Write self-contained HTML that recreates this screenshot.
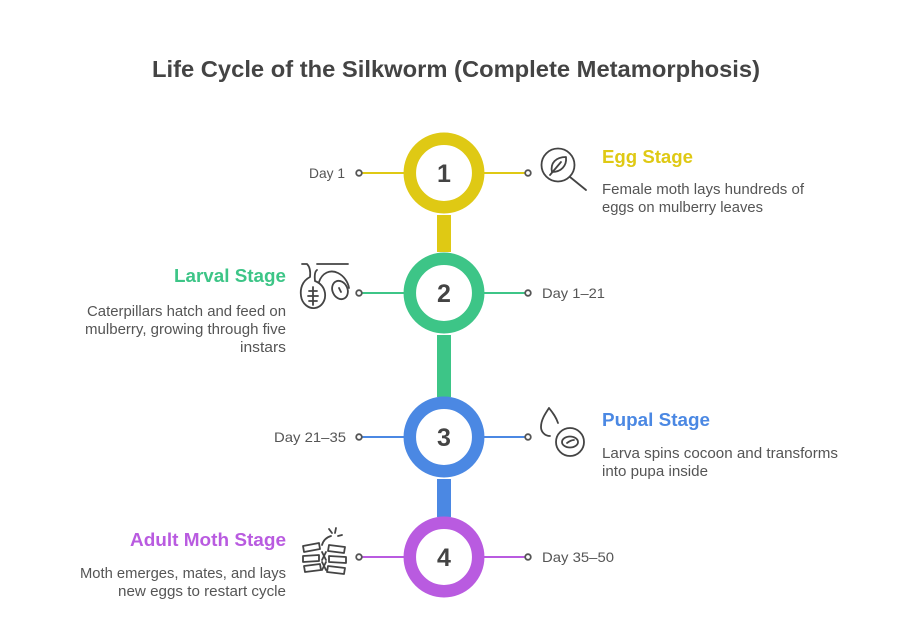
<!DOCTYPE html>
<html><head><meta charset="utf-8"><style>
html,body{margin:0;padding:0;background:#fff;}
svg{display:block;}
text{font-family:"Liberation Sans",Arial,sans-serif;}
</style></head><body>
<svg width="912" height="632" viewBox="0 0 912 632" xmlns="http://www.w3.org/2000/svg">
<rect width="912" height="632" fill="#fff"/>
<text x="456" y="77" text-anchor="middle" font-size="23" font-weight="bold" fill="#444" textLength="608" lengthAdjust="spacingAndGlyphs">Life Cycle of the Silkworm (Complete Metamorphosis)</text>

<!-- vertical bars -->
<rect x="437" y="215" width="14" height="37" fill="#DFC914"/>
<rect x="437" y="335" width="14" height="62" fill="#3DC587"/>
<rect x="437" y="479" width="14" height="38" fill="#4B88E3"/>

<!-- horizontal connectors -->
<g stroke-width="2">
<line x1="362" y1="173" x2="404" y2="173" stroke="#DFC914"/>
<line x1="484" y1="173" x2="525" y2="173" stroke="#DFC914"/>
<line x1="362" y1="293" x2="404" y2="293" stroke="#3DC587"/>
<line x1="484" y1="293" x2="525" y2="293" stroke="#3DC587"/>
<line x1="362" y1="437" x2="404" y2="437" stroke="#4B88E3"/>
<line x1="484" y1="437" x2="525" y2="437" stroke="#4B88E3"/>
<line x1="362" y1="557" x2="404" y2="557" stroke="#B95BE0"/>
<line x1="484" y1="557" x2="525" y2="557" stroke="#B95BE0"/>
</g>
<g fill="#fff" stroke="#555" stroke-width="1.8">
<circle cx="359" cy="173" r="2.8"/><circle cx="528" cy="173" r="2.8"/>
<circle cx="359" cy="293" r="2.8"/><circle cx="528" cy="293" r="2.8"/>
<circle cx="359" cy="437" r="2.8"/><circle cx="528" cy="437" r="2.8"/>
<circle cx="359" cy="557" r="2.8"/><circle cx="528" cy="557" r="2.8"/>
</g>

<!-- rings -->
<g fill="#fff" stroke-width="12.5">
<circle cx="444" cy="173" r="34.2" stroke="#DFC914"/>
<circle cx="444" cy="293" r="34.2" stroke="#3DC587"/>
<circle cx="444" cy="437" r="34.2" stroke="#4B88E3"/>
<circle cx="444" cy="557" r="34.2" stroke="#B95BE0"/>
</g>
<g font-size="25" font-weight="bold" fill="#444" text-anchor="middle">
<text x="444" y="182">1</text>
<text x="444" y="302">2</text>
<text x="444" y="446">3</text>
<text x="444" y="566">4</text>
</g>

<!-- day labels -->
<g font-size="14" fill="#555">
<text x="345" y="178" text-anchor="end" textLength="36" lengthAdjust="spacingAndGlyphs">Day 1</text>
<text x="542" y="298" textLength="63" lengthAdjust="spacingAndGlyphs">Day 1–21</text>
<text x="346" y="442" text-anchor="end" textLength="72" lengthAdjust="spacingAndGlyphs">Day 21–35</text>
<text x="542" y="562" textLength="72" lengthAdjust="spacingAndGlyphs">Day 35–50</text>
</g>

<!-- stage titles -->
<g font-size="18" font-weight="bold">
<text x="602" y="163" fill="#DFC914" textLength="91" lengthAdjust="spacingAndGlyphs">Egg Stage</text>
<text x="286" y="282" fill="#3DC587" text-anchor="end" textLength="112" lengthAdjust="spacingAndGlyphs">Larval Stage</text>
<text x="602" y="426" fill="#4B88E3" textLength="108" lengthAdjust="spacingAndGlyphs">Pupal Stage</text>
<text x="286" y="546" fill="#B95BE0" text-anchor="end" textLength="156" lengthAdjust="spacingAndGlyphs">Adult Moth Stage</text>
</g>

<!-- descriptions -->
<g font-size="14.5" fill="#555">
<text x="602" y="194" textLength="202" lengthAdjust="spacingAndGlyphs">Female moth lays hundreds of</text>
<text x="602" y="212" textLength="161" lengthAdjust="spacingAndGlyphs">eggs on mulberry leaves</text>
<text x="286" y="316" text-anchor="end" textLength="199" lengthAdjust="spacingAndGlyphs">Caterpillars hatch and feed on</text>
<text x="286" y="334" text-anchor="end" textLength="201" lengthAdjust="spacingAndGlyphs">mulberry, growing through five</text>
<text x="286" y="352" text-anchor="end" textLength="46" lengthAdjust="spacingAndGlyphs">instars</text>
<text x="602" y="458" textLength="236" lengthAdjust="spacingAndGlyphs">Larva spins cocoon and transforms</text>
<text x="602" y="476" textLength="106" lengthAdjust="spacingAndGlyphs">into pupa inside</text>
<text x="286" y="578" text-anchor="end" textLength="206" lengthAdjust="spacingAndGlyphs">Moth emerges, mates, and lays</text>
<text x="286" y="596" text-anchor="end" textLength="168" lengthAdjust="spacingAndGlyphs">new eggs to restart cycle</text>
</g>

<!-- icons -->
<g fill="none" stroke="#444" stroke-width="1.8" stroke-linecap="round" stroke-linejoin="round">
<!-- magnifier with leaf -->
<circle cx="558" cy="165" r="16.5"/>
<line x1="570" y1="177" x2="586" y2="190"/>
<path d="M552 172 C550 163 556 157 566 157 C567 166 561 172 552 172 Z"/>
<line x1="550" y1="175" x2="561" y2="162"/>

<!-- larval icon -->
<line x1="317" y1="264" x2="348" y2="264"/>
<path d="M302 264 H307 Q311 268 310 277 C302 281 300 289 301 296 C302 304 309 309 315 308 C322 307 326 300 325 293 C324 287 320 283 315 281 Q314 272 317 270"/>
<path d="M319 282 C322 273 330 269 338 273 C344 276 348 282 349 288"/>
<ellipse cx="340" cy="290" rx="7.5" ry="9.5" transform="rotate(-25 340 290)"/>
<line x1="339" y1="288" x2="341" y2="292"/>
<path d="M313 287 V305 M309 291 H317 M308 296 H318 M309 301 H317"/>

<!-- pupal icon -->
<path d="M549 408 C545 414 541 420 541 427 C541 432 545 436 550 436 M549 408 C553 413 556 417 558 423"/>
<circle cx="570" cy="442" r="14"/>
<ellipse cx="570" cy="442" rx="8" ry="5.5"/>
<path d="M567 443 Q571 440 574 440"/>

<!-- moth icon -->
<path d="M303 546 L319 543 L320 549 L304 552 Z"/>
<path d="M303 556 L319 555 L319 561 L303 562 Z"/>
<path d="M304 566 L320 564 L321 570 L305 572 Z"/>
<path d="M329 545 L345 547 L344 553 L328 551 Z"/>
<path d="M329 556 L346 557 L346 563 L329 562 Z"/>
<path d="M328 566 L345 568 L344 574 L327 572 Z"/>
<path d="M322 545 Q324 538 331 536 M322 552 L326 560 M326 552 L322 560 M322 562 L326 570 M326 562 L322 570"/>
<path d="M329 529 L332 533 M336 528 L335 533 M338 536 L342 535"/>
</g>
</svg>
</body></html>
